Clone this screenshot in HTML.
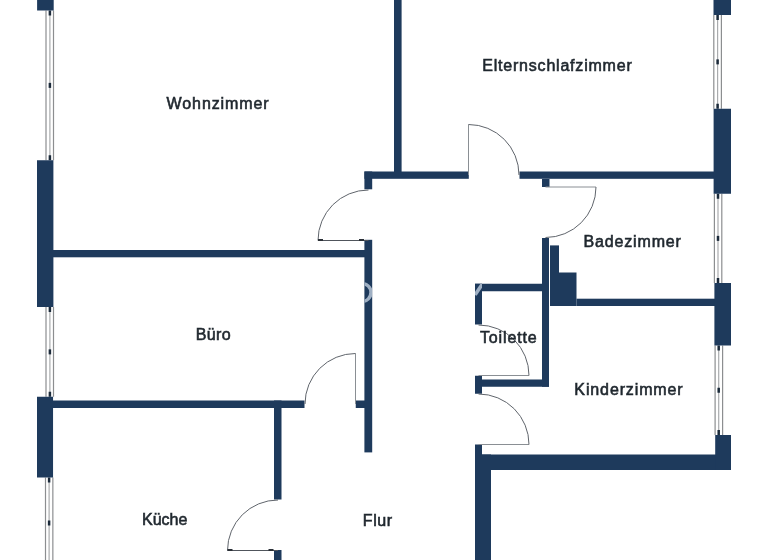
<!DOCTYPE html>
<html><head><meta charset="utf-8"><style>
html,body{margin:0;padding:0;background:#fff;width:768px;height:560px;overflow:hidden}
svg{display:block;will-change:transform}
text{font-family:"Liberation Sans",sans-serif;font-size:16px;font-weight:normal;fill:#1f272e;stroke:#1f272e;stroke-width:0.6px}
</style></head><body>
<svg width="768" height="560" viewBox="0 0 768 560">
<g fill="#fff"><line x1="46" y1="10.5" x2="46" y2="160.25" stroke="#8c8e90" stroke-width="1.2"/><line x1="49.9" y1="10.5" x2="49.9" y2="160.25" stroke="#a9abad" stroke-width="1.2"/><line x1="53.5" y1="10.5" x2="53.5" y2="160.25" stroke="#8c8e90" stroke-width="1.2"/><rect x="48.65" y="10.5" width="2.5" height="5" fill="#1b2a3a"/><rect x="48.65" y="82.875" width="2.5" height="5" fill="#1b2a3a"/><rect x="48.65" y="155.25" width="2.5" height="5" fill="#1b2a3a"/><line x1="46" y1="307" x2="46" y2="396.75" stroke="#8c8e90" stroke-width="1.2"/><line x1="49.9" y1="307" x2="49.9" y2="396.75" stroke="#a9abad" stroke-width="1.2"/><line x1="53.5" y1="307" x2="53.5" y2="396.75" stroke="#8c8e90" stroke-width="1.2"/><rect x="48.65" y="307" width="2.5" height="5" fill="#1b2a3a"/><rect x="48.65" y="349.375" width="2.5" height="5" fill="#1b2a3a"/><rect x="48.65" y="391.75" width="2.5" height="5" fill="#1b2a3a"/><line x1="45.5" y1="477.5" x2="45.5" y2="568.5" stroke="#8c8e90" stroke-width="1.2"/><line x1="49.1" y1="477.5" x2="49.1" y2="568.5" stroke="#a9abad" stroke-width="1.2"/><line x1="52.85" y1="477.5" x2="52.85" y2="568.5" stroke="#8c8e90" stroke-width="1.2"/><rect x="47.85" y="477.5" width="2.5" height="5" fill="#1b2a3a"/><rect x="47.85" y="520.5" width="2.5" height="5" fill="#1b2a3a"/><rect x="47.85" y="563.5" width="2.5" height="5" fill="#1b2a3a"/><line x1="713.8" y1="15" x2="713.8" y2="108.75" stroke="#8c8e90" stroke-width="1.2"/><line x1="717.6" y1="15" x2="717.6" y2="108.75" stroke="#a9abad" stroke-width="1.2"/><line x1="721.4" y1="15" x2="721.4" y2="108.75" stroke="#8c8e90" stroke-width="1.2"/><rect x="716.35" y="15" width="2.5" height="5" fill="#1b2a3a"/><rect x="716.35" y="59.375" width="2.5" height="5" fill="#1b2a3a"/><rect x="716.35" y="103.75" width="2.5" height="5" fill="#1b2a3a"/><line x1="714.4" y1="193.75" x2="714.4" y2="283" stroke="#8c8e90" stroke-width="1.2"/><line x1="718" y1="193.75" x2="718" y2="283" stroke="#a9abad" stroke-width="1.2"/><line x1="721.8" y1="193.75" x2="721.8" y2="283" stroke="#8c8e90" stroke-width="1.2"/><rect x="716.75" y="193.75" width="2.5" height="5" fill="#1b2a3a"/><rect x="716.75" y="235.875" width="2.5" height="5" fill="#1b2a3a"/><rect x="716.75" y="278" width="2.5" height="5" fill="#1b2a3a"/><line x1="715.1" y1="345.5" x2="715.1" y2="435" stroke="#8c8e90" stroke-width="1.2"/><line x1="718.7" y1="345.5" x2="718.7" y2="435" stroke="#a9abad" stroke-width="1.2"/><line x1="722.6" y1="345.5" x2="722.6" y2="435" stroke="#8c8e90" stroke-width="1.2"/><rect x="717.45" y="345.5" width="2.5" height="5" fill="#1b2a3a"/><rect x="717.45" y="387.75" width="2.5" height="5" fill="#1b2a3a"/><rect x="717.45" y="430" width="2.5" height="5" fill="#1b2a3a"/></g>
<g fill="#1e3a5c"><rect x="37.1" y="0" width="16.60" height="10.50"/><rect x="37.0" y="160.25" width="16.40" height="146.75"/><rect x="37.0" y="396.75" width="16.05" height="80.75"/><rect x="53" y="250" width="319.00" height="7.30"/><rect x="53" y="400.5" width="251.50" height="7.50"/><rect x="355.75" y="400.5" width="16.25" height="7.50"/><rect x="364.4" y="171.5" width="7.80" height="17.80"/><rect x="364.4" y="239.8" width="7.80" height="212.60"/><rect x="274" y="400.5" width="7.50" height="99.00"/><rect x="274" y="550" width="7.50" height="10.00"/><rect x="394" y="0" width="7.60" height="175.00"/><rect x="364.4" y="171.5" width="104.40" height="7.30"/><rect x="519.5" y="171.5" width="211.50" height="7.30"/><rect x="542" y="179" width="7.50" height="8.00"/><rect x="542" y="238" width="7.00" height="148.75"/><rect x="550" y="245.4" width="9.00" height="60.60"/><rect x="550" y="272.5" width="26.50" height="33.50"/><rect x="576.5" y="298.7" width="143.50" height="7.30"/><rect x="475" y="283.75" width="67.00" height="7.50"/><rect x="475" y="283.75" width="7.00" height="40.75"/><rect x="475" y="379.5" width="74.00" height="7.25"/><rect x="475" y="375.75" width="7.00" height="18.00"/><rect x="475" y="444.5" width="7.00" height="11.50"/><rect x="475" y="454.5" width="16.00" height="105.50"/><rect x="475" y="454.5" width="256.00" height="15.50"/><rect x="713.5" y="0" width="17.50" height="15.00"/><rect x="713.6" y="108.75" width="17.40" height="85.00"/><rect x="714.4" y="283" width="16.60" height="62.50"/><rect x="715.2" y="435" width="15.80" height="35.00"/></g>
<clipPath id="c1"><rect x="364.5" y="260" width="7.5" height="60"/></clipPath>
<clipPath id="c2"><rect x="475" y="283.75" width="7" height="12"/></clipPath>
<circle cx="362" cy="292.5" r="9" fill="none" stroke="#9fb0c4" stroke-width="3.5" clip-path="url(#c1)"/>
<line x1="475" y1="295" x2="483" y2="283" stroke="#9fb0c4" stroke-width="3.5" clip-path="url(#c2)"/>
<g fill="none" stroke="#5f646b" stroke-width="1"><line x1="368.5" y1="240.5" x2="318.0" y2="240.5" stroke="#50555c"/><path d="M318.0 240.5 A50.5 50.5 0 0 1 368.5 190.0"/><line x1="468.5" y1="175" x2="468.5" y2="124.5" stroke="#8a8f94"/><path d="M468.5 124.5 A50.5 50.5 0 0 1 519.0 175.0"/><line x1="545.5" y1="187" x2="596.0" y2="187.0" stroke="#8a8f94"/><path d="M596.0 187.0 A50.5 50.5 0 0 1 545.5 237.5"/><line x1="355.5" y1="404" x2="355.5" y2="353.5" stroke="#8a8f94"/><path d="M355.5 353.5 A50.5 50.5 0 0 0 305.0 404.0"/><line x1="278" y1="550.5" x2="227.5" y2="550.5" stroke="#50555c"/><path d="M227.5 550.5 A50.5 50.5 0 0 1 278.0 500.0"/><line x1="478.5" y1="375.5" x2="529.0" y2="375.5" stroke="#8a8f94"/><path d="M529.0 375.5 A50.5 50.5 0 0 0 478.5 325.0"/><line x1="478.5" y1="444.5" x2="529.0" y2="444.5" stroke="#8a8f94"/><path d="M529.0 444.5 A50.5 50.5 0 0 0 478.5 394.0"/></g>
<g fill="#2a2f36"><rect x="318.0" y="239.0" width="5" height="2"/><rect x="359.0" y="239.0" width="5" height="2"/><rect x="227.5" y="549.0" width="5" height="2"/><rect x="268.5" y="549.0" width="5" height="2"/></g>
<g><text x="166.60" y="109.2" textLength="102" lengthAdjust="spacing">Wohnzimmer</text><text x="482.25" y="70.6" textLength="149.5" lengthAdjust="spacing">Elternschlafzimmer</text><text x="583.50" y="247.3" textLength="97.4" lengthAdjust="spacing">Badezimmer</text><text x="195.70" y="340" textLength="35" lengthAdjust="spacing">Büro</text><text x="479.90" y="342.9" textLength="56.8" lengthAdjust="spacing">Toilette</text><text x="574.35" y="395" textLength="108.3" lengthAdjust="spacing">Kinderzimmer</text><text x="141.95" y="525" textLength="45.5" lengthAdjust="spacing">Küche</text><text x="362.85" y="525.5" textLength="29.3" lengthAdjust="spacing">Flur</text></g>
</svg>
</body></html>
